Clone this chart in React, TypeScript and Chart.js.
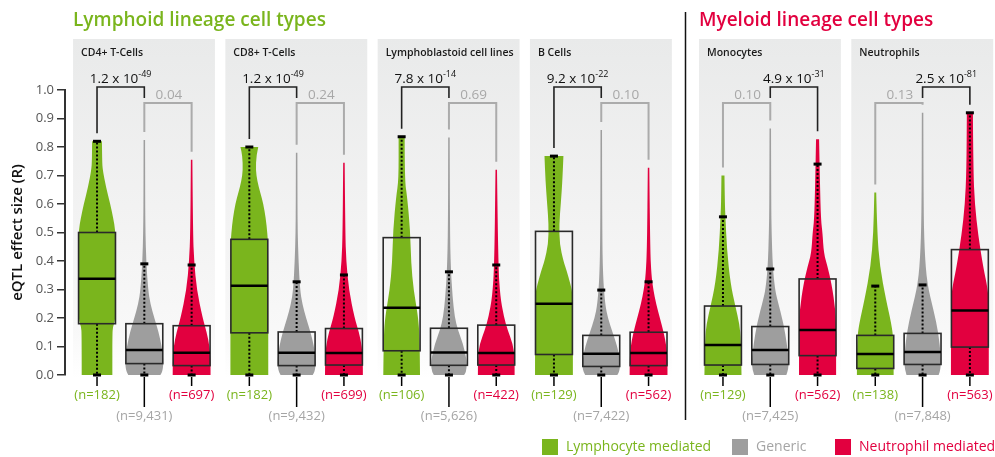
import React, { useEffect, useRef } from 'react';
import { Chart, registerables } from 'chart.js';
Chart.register(...registerables);

const GROUP_TITLES = ['Lymphoid lineage cell types', 'Myeloid lineage cell types'];
const PANELS = ['CD4+ T-Cells', 'CD8+ T-Cells', 'Lymphoblastoid cell lines', 'B Cells', 'Monocytes', 'Neutrophils'];
const PANEL_GROUP = [0, 0, 0, 0, 1, 1];
const SERIES = ['Lymphocyte mediated', 'Generic', 'Neutrophil mediated'];
const FILL_COLORS = ['#7ab51d', '#9e9e9e', '#e2003f'];
const TEXT_COLORS = ['#7ab51d', '#a5a5a5', '#e2003f'];
const GROUP_COLORS = ['#7ab51d', '#e2003f'];
const Y_TICKS = [0, 0.1, 0.2, 0.3, 0.4, 0.5, 0.6, 0.7, 0.8, 0.9, 1.0];

// per panel: [lymphocyte, generic, neutrophil]
const N_COUNTS = [[182, 9431, 697], [182, 9432, 699], [106, 5626, 422], [129, 7422, 562], [129, 7425, 562], [138, 7848, 563]];
const Q1 = [[0.18, 0.04, 0.033], [0.148, 0.033, 0.035], [0.085, 0.034, 0.035], [0.072, 0.03, 0.033], [0.035, 0.037, 0.068], [0.023, 0.037, 0.098]];
const MEDIAN = [[0.338, 0.088, 0.078], [0.313, 0.078, 0.077], [0.236, 0.079, 0.077], [0.25, 0.075, 0.077], [0.105, 0.088, 0.158], [0.074, 0.081, 0.226]];
const Q3 = [[0.50, 0.18, 0.173], [0.476, 0.151, 0.163], [0.482, 0.164, 0.175], [0.504, 0.139, 0.15], [0.242, 0.17, 0.337], [0.139, 0.146, 0.44]];
const WHISKER_HI = [[0.82, 0.39, 0.386], [0.80, 0.327, 0.351], [0.836, 0.362, 0.386], [0.768, 0.298, 0.327], [0.555, 0.372, 0.74], [0.312, 0.316, 0.92]];
const WHISKER_LO = [[0, 0, 0], [0, 0, 0], [0, 0, 0], [0, 0, 0], [0, 0, 0], [0, 0, 0]];

// p-values: upper (black) bracket and lower (grey) bracket; pair given by its left index
const P_UPPER_LEFT = [0, 0, 0, 0, 1, 1];
const P_UPPER_MANT = ['1.2', '1.2', '7.8', '9.2', '4.9', '2.5'];
const P_UPPER_EXP = ['-49', '-49', '-14', '-22', '-31', '-81'];
const P_LOWER_LEFT = [1, 1, 1, 1, 0, 0];
const P_LOWER_TEXT = ['0.04', '0.24', '0.69', '0.10', '0.10', '0.13'];

// violin density profiles: [value, relative width]
const VIOLIN_CD4 = [
  [[0.82, 0.26], [0.75, 0.27], [0.72, 0.3], [0.66, 0.47], [0.60, 0.7], [0.55, 0.86], [0.51, 0.96], [0.45, 1], [0.2, 1], [0.17, 0.84], [0.14, 0.81], [0, 0.81]],
  [[0.825, 0.04], [0.6, 0.045], [0.5, 0.06], [0.4, 0.1], [0.3, 0.2], [0.25, 0.32], [0.2, 0.53], [0.15, 0.76], [0.1, 0.92], [0.06, 1], [0.03, 1], [0.01, 0.94], [0, 0.85]],
  [[0.755, 0.04], [0.5, 0.07], [0.4, 0.13], [0.3, 0.27], [0.2, 0.58], [0.15, 0.8], [0.1, 0.95], [0.05, 1], [0, 1]],
];
const VIOLIN_CD8 = [
  [[0.80, 0.47], [0.77, 0.37], [0.72, 0.34], [0.68, 0.42], [0.64, 0.58], [0.60, 0.74], [0.55, 0.87], [0.50, 0.95], [0.45, 1], [0, 1]],
  [[0.78, 0.04], [0.6, 0.045], [0.5, 0.055], [0.4, 0.1], [0.3, 0.18], [0.25, 0.3], [0.2, 0.5], [0.15, 0.74], [0.1, 0.92], [0.06, 1], [0.03, 1], [0.01, 0.94], [0, 0.85]],
  [[0.745, 0.04], [0.5, 0.07], [0.4, 0.12], [0.3, 0.26], [0.2, 0.56], [0.15, 0.8], [0.1, 0.95], [0.05, 1], [0, 1]],
];
const VIOLIN_LCL = [
  [[0.836, 0.16], [0.684, 0.16], [0.626, 0.29], [0.509, 0.45], [0.393, 0.5], [0.298, 0.63], [0.205, 0.87], [0.134, 0.95], [0, 0.97]],
  [[0.833, 0.04], [0.51, 0.05], [0.37, 0.1], [0.275, 0.19], [0.205, 0.3], [0.158, 0.47], [0.11, 0.74], [0.064, 0.9], [0.04, 0.95], [0.01, 0.9], [0, 0.8]],
  [[0.72, 0.04], [0.39, 0.1], [0.275, 0.21], [0.205, 0.4], [0.158, 0.6], [0.11, 0.87], [0.064, 0.97], [0, 0.97]],
];
const VIOLIN_B = [
  [[0.768, 0.5], [0.684, 0.45], [0.6, 0.36], [0.53, 0.28], [0.46, 0.3], [0.40, 0.5], [0.368, 0.66], [0.32, 0.87], [0.28, 1], [0, 1]],
  [[0.86, 0.04], [0.5, 0.05], [0.35, 0.09], [0.25, 0.2], [0.2, 0.35], [0.15, 0.6], [0.1, 0.85], [0.06, 0.97], [0.03, 1], [0.01, 0.94], [0, 0.85]],
  [[0.727, 0.04], [0.45, 0.08], [0.35, 0.15], [0.3, 0.25], [0.25, 0.4], [0.2, 0.6], [0.15, 0.8], [0.1, 0.95], [0.05, 1], [0, 1]],
];
const VIOLIN_MONO = [
  [[0.70, 0.08], [0.6, 0.1], [0.555, 0.13], [0.44, 0.21], [0.32, 0.4], [0.24, 0.66], [0.18, 0.87], [0.123, 0.95], [0, 0.98]],
  [[0.865, 0.04], [0.6, 0.05], [0.5, 0.07], [0.38, 0.13], [0.3, 0.25], [0.263, 0.38], [0.18, 0.7], [0.11, 0.88], [0.05, 0.98], [0.02, 0.95], [0, 0.85]],
  [[0.827, 0.08], [0.66, 0.13], [0.544, 0.18], [0.5, 0.26], [0.427, 0.33], [0.38, 0.53], [0.32, 0.74], [0.228, 0.95], [0.15, 0.98], [0, 0.98]],
];
const VIOLIN_NEUT = [
  [[0.64, 0.05], [0.5, 0.1], [0.38, 0.24], [0.263, 0.57], [0.18, 0.85], [0.12, 0.97], [0, 0.97]],
  [[0.92, 0.04], [0.6, 0.05], [0.44, 0.1], [0.32, 0.24], [0.228, 0.58], [0.147, 0.84], [0.064, 0.97], [0.02, 0.95], [0, 0.85]],
  [[0.92, 0.16], [0.72, 0.18], [0.6, 0.26], [0.49, 0.44], [0.38, 0.7], [0.3, 0.95], [0.25, 1], [0, 1]],
];
const VIOLINS = [VIOLIN_CD4, VIOLIN_CD8, VIOLIN_LCL, VIOLIN_B, VIOLIN_MONO, VIOLIN_NEUT];

// layout in x-axis units (one unit = distance between neighbouring boxes)
const X_FIRST = 0.677;
const X_PANEL = 3.22;
const X_GROUP_GAP = 0.353;
const X_MAX = 19.64;
const BOX_HALF = 0.39;
const VIOLIN_HALF = 0.40;
const PANEL_LEFT_PAD = 0.507;
const PANEL_WIDTH = 3.0;

const FONT = '"Open Sans", "Noto Sans", sans-serif';

function centerOf(p: number, k: number) {
  return X_FIRST + p * X_PANEL + (PANEL_GROUP[p] ? X_GROUP_GAP : 0) + k;
}

function smoothSide(ctx: CanvasRenderingContext2D, pts: number[][], first: boolean) {
  if (first) ctx.moveTo(pts[0][0], pts[0][1]);
  else ctx.lineTo(pts[0][0], pts[0][1]);
  for (let i = 1; i < pts.length - 1; i++) {
    const mx = (pts[i][0] + pts[i + 1][0]) / 2;
    const my = (pts[i][1] + pts[i + 1][1]) / 2;
    ctx.quadraticCurveTo(pts[i][0], pts[i][1], mx, my);
  }
  const last = pts[pts.length - 1];
  ctx.lineTo(last[0], last[1]);
}

const panelPlugin = {
  id: 'panelPlugin',
  beforeDraw(chart: any) {
    const ctx: CanvasRenderingContext2D = chart.ctx;
    const xs = chart.scales.x;
    const ys = chart.scales.y;
    const top = ys.getPixelForValue(1.179);
    const bottom = ys.getPixelForValue(0) + 4;
    ctx.save();
    for (let p = 0; p < PANELS.length; p++) {
      const l = xs.getPixelForValue(centerOf(p, 0) - PANEL_LEFT_PAD);
      const r = xs.getPixelForValue(centerOf(p, 0) - PANEL_LEFT_PAD + PANEL_WIDTH);
      const g = ctx.createLinearGradient(0, top, 0, bottom);
      g.addColorStop(0, '#e9eaea');
      g.addColorStop(0.55, '#f3f3f3');
      g.addColorStop(0.85, '#f8f8f8');
      g.addColorStop(1, '#ffffff');
      ctx.fillStyle = g;
      ctx.fillRect(l, top, r - l, bottom - top);
    }
    ctx.restore();
  },
  afterDraw(chart: any) {
    const ctx: CanvasRenderingContext2D = chart.ctx;
    const xs = chart.scales.x;
    const ys = chart.scales.y;
    const unit = xs.getPixelForValue(1) - xs.getPixelForValue(0);
    const y0 = ys.getPixelForValue(0);
    ctx.save();

    // group titles and divider
    ctx.textBaseline = 'alphabetic';
    ctx.textAlign = 'left';
    ctx.font = `600 19px ${FONT}`;
    for (let gi = 0; gi < GROUP_TITLES.length; gi++) {
      const firstPanel = PANEL_GROUP.indexOf(gi);
      const x = xs.getPixelForValue(centerOf(firstPanel, 0) - PANEL_LEFT_PAD);
      ctx.fillStyle = GROUP_COLORS[gi];
      ctx.fillText(GROUP_TITLES[gi], x, ys.getPixelForValue(1.225));
    }
    const divX = Math.round((xs.getPixelForValue(centerOf(3, 0) - PANEL_LEFT_PAD + PANEL_WIDTH) + xs.getPixelForValue(centerOf(4, 0) - PANEL_LEFT_PAD)) / 2) + 0.5;
    ctx.strokeStyle = '#111';
    ctx.lineWidth = 1.5;
    ctx.beginPath();
    ctx.moveTo(divX, ys.getPixelForValue(1.274));
    ctx.lineTo(divX, ys.getPixelForValue(-0.158));
    ctx.stroke();

    for (let p = 0; p < PANELS.length; p++) {
      // panel title
      ctx.font = `600 10.5px ${FONT}`;
      ctx.fillStyle = '#1a1a1a';
      ctx.textAlign = 'left';
      ctx.fillText(PANELS[p], xs.getPixelForValue(centerOf(p, 0) - PANEL_LEFT_PAD) + 8, ys.getPixelForValue(1.121));

      for (let k = 0; k < 3; k++) {
        const cx = xs.getPixelForValue(centerOf(p, k));
        // violin
        const prof = VIOLINS[p][k];
        const right = prof.map((d) => [cx + d[1] * VIOLIN_HALF * unit, ys.getPixelForValue(d[0])]);
        const left = prof.slice().reverse().map((d) => [cx - d[1] * VIOLIN_HALF * unit, ys.getPixelForValue(d[0])]);
        ctx.beginPath();
        smoothSide(ctx, right, true);
        smoothSide(ctx, left, false);
        ctx.closePath();
        ctx.fillStyle = FILL_COLORS[k];
        ctx.fill();

        // whiskers
        const yq1 = ys.getPixelForValue(Q1[p][k]);
        const yq3 = ys.getPixelForValue(Q3[p][k]);
        const ymed = ys.getPixelForValue(MEDIAN[p][k]);
        const yhi = ys.getPixelForValue(WHISKER_HI[p][k]);
        const ylo = ys.getPixelForValue(WHISKER_LO[p][k]);
        ctx.strokeStyle = '#000';
        ctx.lineWidth = 2;
        ctx.setLineDash([2, 2]);
        ctx.beginPath();
        ctx.moveTo(cx, yq3);
        ctx.lineTo(cx, yhi);
        ctx.moveTo(cx, yq1);
        ctx.lineTo(cx, ylo);
        ctx.stroke();
        ctx.setLineDash([]);
        ctx.fillStyle = '#000';
        ctx.fillRect(cx - 4, yhi - 1.5, 8, 3);
        ctx.fillRect(cx - 4, ylo - 1.5, 8, 3);

        // box
        const bl = xs.getPixelForValue(centerOf(p, k) - BOX_HALF);
        const br = xs.getPixelForValue(centerOf(p, k) + BOX_HALF);
        ctx.strokeStyle = '#2a2a2a';
        ctx.lineWidth = 1.6;
        ctx.strokeRect(bl, yq3, br - bl, yq1 - yq3);
        ctx.strokeStyle = '#000';
        ctx.lineWidth = 2.5;
        ctx.beginPath();
        ctx.moveTo(bl, ymed);
        ctx.lineTo(br, ymed);
        ctx.stroke();

        // n labels
        ctx.strokeStyle = '#000';
        ctx.lineWidth = 1.5;
        ctx.beginPath();
        ctx.moveTo(cx, y0 + 2);
        ctx.lineTo(cx, k === 1 ? y0 + 32 : y0 + 11);
        ctx.stroke();
        ctx.font = `500 13px ${FONT}`;
        ctx.textAlign = 'center';
        ctx.fillStyle = TEXT_COLORS[k];
        ctx.fillText(`(n=${N_COUNTS[p][k].toLocaleString('en-US')})`, cx, k === 1 ? y0 + 45 : y0 + 24);
      }

      // brackets
      const vtop = (k: number) => ys.getPixelForValue(VIOLINS[p][k][0][0]) - 8;
      const yUp = ys.getPixelForValue(1.0105);
      const yLow = ys.getPixelForValue(0.954);
      const ul = P_UPPER_LEFT[p];
      const ll = P_LOWER_LEFT[p];
      // lower (grey) bracket
      {
        const xa = xs.getPixelForValue(centerOf(p, ll));
        const xb = xs.getPixelForValue(centerOf(p, ll + 1));
        ctx.strokeStyle = '#ababab';
        ctx.lineWidth = 2;
        ctx.beginPath();
        ctx.moveTo(xa, vtop(ll));
        ctx.lineTo(xa, yLow);
        ctx.lineTo(xb, yLow);
        ctx.lineTo(xb, vtop(ll + 1));
        ctx.stroke();
        ctx.font = `500 13.5px ${FONT}`;
        ctx.textAlign = 'center';
        ctx.fillStyle = '#a8a8a8';
        ctx.fillText(P_LOWER_TEXT[p], (xa + xb) / 2 + 1, yLow - 4);
      }
      // upper (black) bracket
      {
        const xa = xs.getPixelForValue(centerOf(p, ul));
        const xb = xs.getPixelForValue(centerOf(p, ul + 1));
        const shared = 1; // generic index sits under the grey bracket
        const yA = ul === shared ? yUp + 11 : vtop(ul);
        const yB = ul + 1 === shared ? yUp + 11 : vtop(ul + 1);
        ctx.strokeStyle = '#222';
        ctx.lineWidth = 1.6;
        ctx.beginPath();
        ctx.moveTo(xa, yA);
        ctx.lineTo(xa, yUp);
        ctx.lineTo(xb, yUp);
        ctx.lineTo(xb, yB);
        ctx.stroke();
        ctx.fillStyle = '#111';
        const mainFont = `500 13.5px ${FONT}`;
        const expFont = `500 9px ${FONT}`;
        ctx.font = mainFont;
        const main = `${P_UPPER_MANT[p]} x 10`;
        const wMain = ctx.measureText(main).width;
        ctx.font = expFont;
        const wExp = ctx.measureText(P_UPPER_EXP[p]).width;
        const start = (xa + xb) / 2 - (wMain + wExp) / 2;
        ctx.textAlign = 'left';
        ctx.font = mainFont;
        ctx.fillText(main, start, yUp - 4);
        ctx.font = expFont;
        ctx.fillText(P_UPPER_EXP[p], start + wMain, yUp - 10);
      }
    }

    // legend
    const legX = [542, 732, 835];
    ctx.font = `14px ${FONT}`;
    ctx.textAlign = 'left';
    ctx.textBaseline = 'middle';
    for (let k = 0; k < 3; k++) {
      ctx.fillStyle = FILL_COLORS[k];
      ctx.fillRect(legX[k], 439, 16, 16);
      ctx.fillStyle = TEXT_COLORS[k];
      ctx.fillText(SERIES[k], legX[k] + 24, 447.5);
    }
    ctx.restore();
  },
};

export default function App() {
  const ref = useRef<HTMLCanvasElement | null>(null);
  useEffect(() => {
    if (!ref.current) return;
    const chart = new Chart(ref.current, {
      type: 'scatter',
      data: { datasets: [] },
      options: {
        animation: false,
        responsive: false,
        devicePixelRatio: 1,
        layout: { padding: { left: 8, top: 90, right: 1, bottom: 82 } },
        plugins: { legend: { display: false }, tooltip: { enabled: false } },
        scales: {
          x: { type: 'linear', display: false, min: 0, max: X_MAX },
          y: {
            type: 'linear',
            min: 0,
            max: 1,
            afterFit: (s: any) => { s.width = 57; },
            afterBuildTicks: (s: any) => { s.ticks = Y_TICKS.map((v) => ({ value: v })); },
            ticks: {
              padding: 3,
              color: '#555',
              font: { family: FONT, size: 13 },
              callback: (v: any) => Number(v).toFixed(1),
            },
            grid: { drawOnChartArea: false, drawTicks: true, tickLength: 8, color: '#333', lineWidth: 1.5 },
            border: { display: true, color: '#333', width: 2 },
            title: {
              display: true,
              text: 'eQTL effect size (R)',
              color: '#111',
              font: { family: FONT, size: 15, weight: '600' },
              padding: { top: 1, bottom: 0 },
            },
          },
        },
      },
      plugins: [panelPlugin],
    } as any);
    return () => chart.destroy();
  }, []);
  return (
    <div style={{ position: 'fixed', left: 0, top: 0, width: 995, height: 457, background: '#fff' }}>
      <canvas ref={ref} width={995} height={457} style={{ display: 'block' }} />
    </div>
  );
}
